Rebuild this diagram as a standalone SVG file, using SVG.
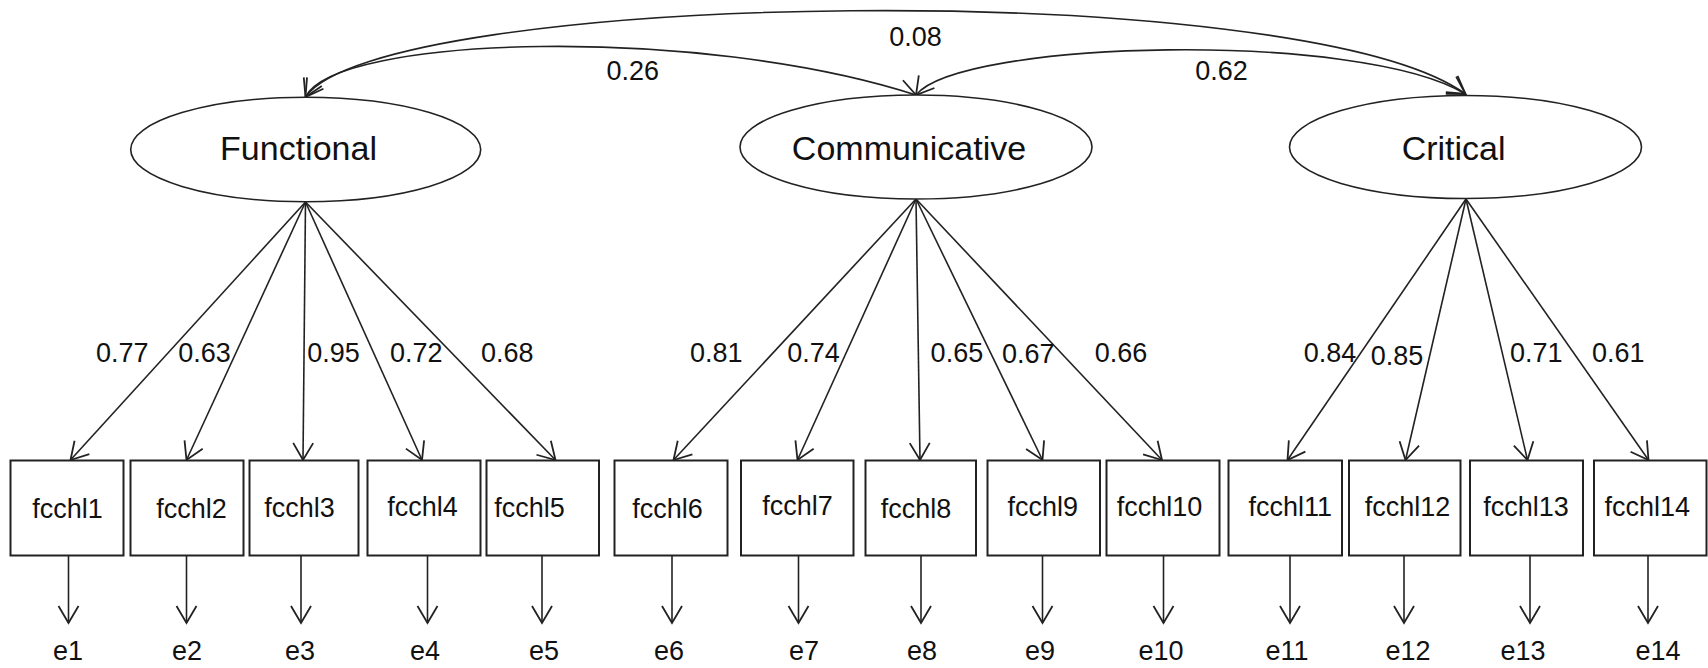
<svg xmlns="http://www.w3.org/2000/svg" width="1708" height="668" viewBox="0 0 1708 668">
<style>
text{font-family:"Liberation Sans",Arial,sans-serif;fill:#111}
.lat{font-size:34px;text-anchor:middle}
.obs{font-size:27px;text-anchor:middle}
.num{font-size:27px;text-anchor:middle}
.err{font-size:27px;text-anchor:middle}
ellipse,rect{fill:#fff;stroke:#222}
ellipse{stroke-width:1.6}
rect{stroke-width:2}
.c{fill:none;stroke:#222;stroke-width:1.6}
</style>
<defs>
<marker id="ah" markerUnits="userSpaceOnUse" markerWidth="24" markerHeight="24" viewBox="-20 -12 24 24" refX="0" refY="0" orient="auto-start-reverse">
<path d="M-17,-10 L0,0 L-17,10" fill="none" stroke="#222" stroke-width="1.8"/>
</marker>
</defs>
<g id="connectors">
<path class="c" d="M305.5,97 C335,35 700,25 916,95" marker-start="url(#ah)" marker-end="url(#ah)"/>
<path class="c" d="M916,95 C960,40 1360,30 1465.5,94" marker-start="url(#ah)" marker-end="url(#ah)"/>
<path class="c" d="M305.5,97 C380,-10 1300,-25 1465.5,94" marker-start="url(#ah)" marker-end="url(#ah)"/>
<g marker-end="url(#ah)">
<line class="c" x1="305.5" y1="202" x2="70.5" y2="460"/>
<line class="c" x1="305.5" y1="202" x2="186.5" y2="460"/>
<line class="c" x1="305.5" y1="202" x2="303" y2="460"/>
<line class="c" x1="305.5" y1="202" x2="422" y2="460"/>
<line class="c" x1="305.5" y1="202" x2="555.5" y2="460"/>
<line class="c" x1="916" y1="199" x2="673.5" y2="460"/>
<line class="c" x1="916" y1="199" x2="797.5" y2="460"/>
<line class="c" x1="916" y1="199" x2="920" y2="460"/>
<line class="c" x1="916" y1="199" x2="1042.5" y2="460"/>
<line class="c" x1="916" y1="199" x2="1162" y2="460"/>
<line class="c" x1="1466" y1="199" x2="1287.5" y2="460"/>
<line class="c" x1="1466" y1="199" x2="1405.5" y2="460"/>
<line class="c" x1="1466" y1="199" x2="1527.5" y2="460"/>
<line class="c" x1="1466" y1="199" x2="1648.5" y2="460"/>
<line class="c" x1="68.5" y1="556" x2="68.5" y2="623"/>
<line class="c" x1="186.5" y1="556" x2="186.5" y2="623"/>
<line class="c" x1="301" y1="556" x2="301" y2="623"/>
<line class="c" x1="427.5" y1="556" x2="427.5" y2="623"/>
<line class="c" x1="542" y1="556" x2="542" y2="623"/>
<line class="c" x1="672" y1="556" x2="672" y2="623"/>
<line class="c" x1="798.5" y1="556" x2="798.5" y2="623"/>
<line class="c" x1="921" y1="556" x2="921" y2="623"/>
<line class="c" x1="1042.5" y1="556" x2="1042.5" y2="623"/>
<line class="c" x1="1163.5" y1="556" x2="1163.5" y2="623"/>
<line class="c" x1="1290" y1="556" x2="1290" y2="623"/>
<line class="c" x1="1404" y1="556" x2="1404" y2="623"/>
<line class="c" x1="1530" y1="556" x2="1530" y2="623"/>
<line class="c" x1="1648" y1="556" x2="1648" y2="623"/>
</g>
<text class="num" x="632.7" y="80">0.26</text>
<text class="num" x="915.5" y="46">0.08</text>
<text class="num" x="1221.5" y="80">0.62</text>
<text class="num" x="122.2" y="362">0.77</text>
<text class="num" x="204.5" y="362">0.63</text>
<text class="num" x="333.6" y="362">0.95</text>
<text class="num" x="416.3" y="362">0.72</text>
<text class="num" x="507.2" y="362">0.68</text>
<text class="num" x="716.3" y="362">0.81</text>
<text class="num" x="813.6" y="362">0.74</text>
<text class="num" x="956.9" y="362">0.65</text>
<text class="num" x="1028.2" y="363">0.67</text>
<text class="num" x="1121" y="362">0.66</text>
<text class="num" x="1330" y="362">0.84</text>
<text class="num" x="1397.1" y="365">0.85</text>
<text class="num" x="1536.3" y="362">0.71</text>
<text class="num" x="1618.3" y="362">0.61</text>
</g>
<g id="Functional"><ellipse cx="305.7" cy="149.5" rx="175" ry="52.2"/><text class="lat" x="298.5" y="160">Functional</text></g>
<g id="Communicative"><ellipse cx="916" cy="147" rx="176" ry="52"/><text class="lat" x="909" y="160">Communicative</text></g>
<g id="Critical"><ellipse cx="1465.5" cy="147" rx="176" ry="51.5"/><text class="lat" x="1453.6" y="159.5">Critical</text></g>
<g id="fcchl1"><rect x="10.5" y="460.5" width="113" height="95"/><text class="obs" x="67.6" y="518">fcchl1</text></g>
<g id="fcchl2"><rect x="130.5" y="460.5" width="113" height="95"/><text class="obs" x="191.6" y="518">fcchl2</text></g>
<g id="fcchl3"><rect x="249.5" y="460.5" width="109" height="95"/><text class="obs" x="299.6" y="516.5">fcchl3</text></g>
<g id="fcchl4"><rect x="367.5" y="460.5" width="113" height="95"/><text class="obs" x="422.4" y="516">fcchl4</text></g>
<g id="fcchl5"><rect x="486.5" y="460.5" width="112.5" height="95"/><text class="obs" x="529.5" y="516.5">fcchl5</text></g>
<g id="fcchl6"><rect x="614.5" y="460.5" width="113" height="95"/><text class="obs" x="667.6" y="518">fcchl6</text></g>
<g id="fcchl7"><rect x="741" y="460.5" width="112.5" height="95"/><text class="obs" x="797.6" y="515">fcchl7</text></g>
<g id="fcchl8"><rect x="865.5" y="460.5" width="110.5" height="95"/><text class="obs" x="916" y="518">fcchl8</text></g>
<g id="fcchl9"><rect x="987.5" y="460.5" width="112.5" height="95"/><text class="obs" x="1042.7" y="516">fcchl9</text></g>
<g id="fcchl10"><rect x="1106.5" y="460.5" width="113" height="95"/><text class="obs" x="1159.5" y="516">fcchl10</text></g>
<g id="fcchl11"><rect x="1228.5" y="460.5" width="113.5" height="95"/><text class="obs" x="1290.2" y="516">fcchl11</text></g>
<g id="fcchl12"><rect x="1349" y="460.5" width="111.5" height="95"/><text class="obs" x="1407.6" y="516">fcchl12</text></g>
<g id="fcchl13"><rect x="1470" y="460.5" width="113" height="95"/><text class="obs" x="1526" y="516">fcchl13</text></g>
<g id="fcchl14"><rect x="1594" y="460.5" width="112.5" height="95"/><text class="obs" x="1647.3" y="516">fcchl14</text></g>
<g id="errors">
<text class="err" x="68" y="660">e1</text>
<text class="err" x="187" y="660">e2</text>
<text class="err" x="300" y="660">e3</text>
<text class="err" x="425" y="660">e4</text>
<text class="err" x="544" y="660">e5</text>
<text class="err" x="669" y="660">e6</text>
<text class="err" x="804" y="660">e7</text>
<text class="err" x="922" y="660">e8</text>
<text class="err" x="1040" y="660">e9</text>
<text class="err" x="1161" y="660">e10</text>
<text class="err" x="1287" y="660">e11</text>
<text class="err" x="1408" y="660">e12</text>
<text class="err" x="1523" y="660">e13</text>
<text class="err" x="1658" y="660">e14</text>
</g>
</svg>
